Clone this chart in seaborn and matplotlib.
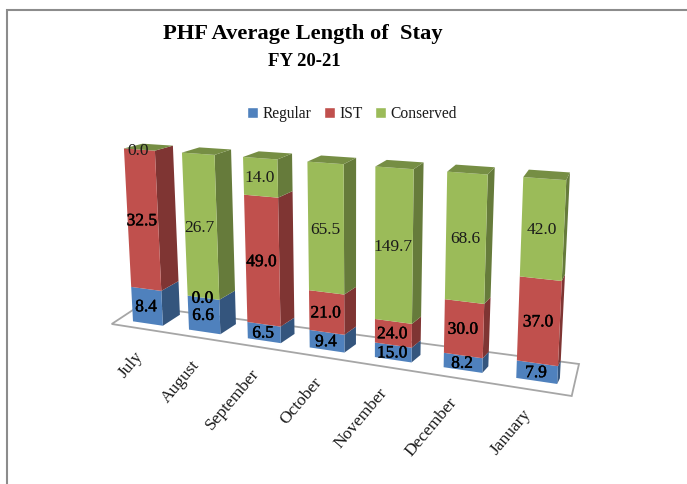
import numpy as np
import pandas as pd
import matplotlib
matplotlib.use("Agg")
import matplotlib.pyplot as plt
import matplotlib.patheffects as pe
from matplotlib.patches import Polygon, Patch
import seaborn as sns

months = ["July", "August", "September", "October", "November", "December", "January"]
series = ["Regular", "IST", "Conserved"]
regular = [8.4, 6.6, 6.5, 9.4, 15.0, 8.2, 7.9]
ist = [32.5, 0.0, 49.0, 21.0, 24.0, 30.0, 37.0]
conserved = [0.0, 26.7, 14.0, 65.5, 149.7, 68.6, 42.0]

colors = ["#4F81BD", "#C0504D", "#9BBB59"]
label_colors = ["black", "black", "#1A1A1A"]
label_stroke = [0.3, 0.3, 0]

sns.set_theme(style="white")
plt.rcParams["font.family"] = ["Liberation Serif", "DejaVu Serif"]


def homography(corners):
    # maps the plot plane (u, v) to picture pixels
    src = [(-0.5, 0), (6.5, 0), (6.5, 1), (-0.5, 1)]
    A, b = [], []
    for (u, v), (x, y) in zip(src, corners):
        A.append([u, v, 1, 0, 0, 0, -u * x, -v * x])
        A.append([0, 0, 0, u, v, 1, -u * y, -v * y])
        b += [x, y]
    return np.append(np.linalg.solve(np.array(A), np.array(b)), 1).reshape(3, 3)


# camera: where the front plane of the columns lands in the picture
H_front = homography([(120.5, 319.5), (575, 386.6), (585, 181.5), (111, 147.5)])


def project(u, v, w=0):
    a = H_front @ np.array([u, v, 1.0])
    x, y = a[:2] / a[2]
    # depth runs up and to the right, and shrinks towards the right of the picture
    t = u - 0.27
    dx = 17 - 1.3 * t - 0.18 * t ** 2 + v
    dy = (1 - v) * (-11 + 0.88 * t) + v * (-5 - 0.45 * t)
    return np.array([x + w * dx, y + w * dy])


def shade(color, f):
    return tuple(c * f for c in matplotlib.colors.to_rgb(color))


df = pd.DataFrame({"Regular": regular, "IST": ist, "Conserved": conserved}, index=months)
shares = df.div(df.sum(axis=1), axis=0)

fig, ax = plt.subplots(figsize=(6.87, 4.84), dpi=100)
fig.subplots_adjust(0, 0, 1, 1)

# seaborn lays the 100% stack out, the patches are then put through the camera
bottom = np.zeros(len(months))
for name, color in zip(series, colors):
    sns.barplot(x=months, y=shares[name].values, bottom=bottom, color=color,
                width=0.54, saturation=1, ax=ax)
    bottom = bottom + shares[name].values

rects = list(ax.patches)
boxes = [(p.get_x(), p.get_x() + p.get_width(), p.get_y(), p.get_y() + p.get_height()) for p in rects]
for p in rects:
    p.remove()

ax.set_xlim(0, 687)
ax.set_ylim(484, 0)
ax.axis("off")

# chart frame
ax.plot([7, 7, 687], [484, 10, 10], color="#8C8C8C", lw=1.5, solid_joinstyle="miter", zorder=1)

# floor
ax.add_patch(Polygon([(111.7, 324), (571.7, 396), (579, 364), (139, 306)], closed=True,
                     facecolor="white", edgecolor="#A6A6A6", lw=1.3, zorder=1))

for n, (x0, x1, y0, y1) in enumerate(boxes):
    s = n // len(months)
    c = colors[s]
    z = 2 + n % len(months) + s * 0.1
    ax.add_patch(Polygon([project(x1, y0), project(x1, y0, 1), project(x1, y1, 1), project(x1, y1)],
                         closed=True, facecolor=shade(c, 0.66), edgecolor="none", zorder=z))
    ax.add_patch(Polygon([project(x0, y0), project(x1, y0), project(x1, y1), project(x0, y1)],
                         closed=True, facecolor=c, edgecolor="none", zorder=z))
    if s == len(series) - 1:
        ax.add_patch(Polygon([project(x0, y1), project(x1, y1), project(x1, y1, 1), project(x0, y1, 1)],
                             closed=True, facecolor=shade(c, 0.76), edgecolor="none", zorder=z))
    value = df.iloc[n % len(months), s]
    lx, ly = project((x0 + x1) / 2, (y0 + y1) / 2)
    txt = ax.text(lx - 1, ly + 1, f"{value:.1f}", ha="center", va="center", fontsize=12.5,
                  color=label_colors[s], zorder=20)
    if label_stroke[s]:
        txt.set_path_effects([pe.withStroke(linewidth=label_stroke[s], foreground="black")])

for i, month in enumerate(months):
    tx, ty = project(i, 0)
    ax.text(tx - 2, ty + 25, month, rotation=50, ha="right", va="top", fontsize=12.5, color="#1A1A1A")

ax.text(303, 34, "PHF Average Length of  Stay", ha="center", va="center", fontsize=16.2,
        fontweight="bold", color="black")
ax.text(304, 62, "FY 20-21", ha="center", va="center", fontsize=13.5, fontweight="bold", color="black")

handles = [Patch(facecolor=c, label=name) for c, name in zip(colors, series)]
ax.legend(handles=handles, ncol=3, loc="center", bbox_to_anchor=(352, 114), bbox_transform=ax.transData,
          frameon=False, fontsize=11.2, handlelength=0.7, handleheight=0.7, handletextpad=0.3,
          columnspacing=0.8, labelcolor="#1A1A1A")

fig.savefig("out.png", dpi=100)
